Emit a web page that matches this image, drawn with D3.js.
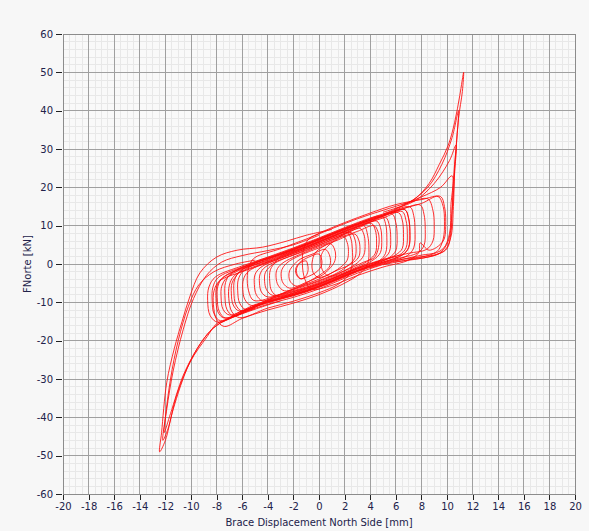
<!DOCTYPE html>
<html>
<head>
<meta charset="utf-8">
<script src="https://cdn.jsdelivr.net/npm/d3@7"></script>
<style>
  body { margin: 0; background: #f7f7f7; }
  text { font-family: "DejaVu Sans", "Liberation Sans", sans-serif; fill: #22224a; }
</style>
</head>
<body>
<div id="chart"></div>
<script>

// tick labels
const xTicks = [-20, -18, -16, -14, -12, -10, -8, -6, -4, -2, 0, 2, 4, 6, 8, 10, 12, 14, 16, 18, 20];
const yTicks = [-60, -50, -40, -30, -20, -10, 0, 10, 20, 30, 40, 50, 60];

// closed hysteresis loops [displacement mm, force kN]
const loops = [
    [[9.3,17.6],[8,15.8],[6,14],[4,12],[2,9.5],[0,6.8],[-2,4.2],[-4,1.8],[-6,-0.5],[-8.1,-3.4],[-8.6,-6],[-8.7,-9.5],[-8.5,-13.5],[-7.9,-15.2],[-6,-12.7],[-4,-10.5],[-2,-8.7],[0,-6.5],[2,-3.7],[4,-1.2],[6,0.8],[8,2.3],[9.2,3.2],[9.7,6.5],[9.8,11],[9.7,15]],
    [[7.9,15.4],[6,13.7],[4,11.7],[2,9.2],[0,6.5],[-2,3.9],[-4,1.5],[-6,-0.8],[-7.9,-3.6],[-8.3,-6.2],[-8.35,-9.4],[-8.2,-13],[-7.7,-14.8],[-6,-12.2],[-4,-10],[-2,-8.2],[0,-6],[2,-3.2],[4,-0.7],[6,1.3],[7.7,2.9],[8.2,4.8],[8.3,9],[8.2,13]],
    [[6.7,14.2],[5,12.5],[3,10.3],[1,7.7],[-1,5],[-3,2.5],[-5,0.2],[-7.6,-3.8],[-8,-6],[-8.05,-9],[-7.9,-12.5],[-7.4,-14.1],[-5,-10.9],[-3,-8.9],[-1,-7],[1,-4.5],[3,-1.7],[5,0.5],[6.5,2.4],[7,4.3],[7.1,8.5],[7,12]],
    [[6.2,13.4],[4,11.2],[2,8.7],[0,6],[-2,3.4],[-4,1],[-6,-1.3],[-7.2,-3.6],[-7.6,-5.8],[-7.65,-8.6],[-7.5,-11.8],[-7,-13.3],[-5,-10.6],[-3,-8.6],[-1,-6.7],[1,-4.2],[3,-1.4],[5,0.8],[6,2.4],[6.5,4],[6.6,8],[6.5,11.5]],
    [[7.1,14.9],[5,12.8],[3,10.6],[1,8],[-1,5.3],[-3,2.8],[-5,0.5],[-6.9,-2.6],[-7.3,-4.8],[-7.35,-8.2],[-7.2,-11.8],[-6.7,-13.5],[-5,-11.2],[-3,-9.2],[-1,-7.3],[1,-4.8],[3,-2],[5,0.2],[6.9,2.2],[7.4,4.2],[7.5,8.8],[7.4,12.6]],
    [[5.2,12.2],[4,11],[2,8.5],[0,5.8],[-2,3.2],[-4,0.8],[-6,-1.5],[-6.4,-2.8],[-6.8,-5],[-6.85,-7.6],[-6.7,-10.7],[-6.2,-12.3],[-4,-9.3],[-2,-7.5],[0,-5.3],[2,-2.5],[4,0],[5,1.3],[5.5,3.2],[5.6,7],[5.5,10]],
    [[5.7,13.1],[4,11.4],[2,8.9],[0,6.2],[-2,3.6],[-4,1.2],[-5.9,-1.8],[-6.3,-4],[-6.35,-7],[-6.2,-10.2],[-5.7,-11.9],[-4,-9.7],[-2,-7.9],[0,-5.7],[2,-2.9],[4,-0.4],[5.5,1.7],[6,3.5],[6.1,7.5],[6,10.8]],
    [[4.5,11.2],[3,9.6],[1,7],[-1,4.3],[-3,1.8],[-5.5,-1.9],[-5.9,-4],[-5.95,-6.7],[-5.8,-9.2],[-5.3,-10.8],[-3,-8.2],[-1,-6.3],[1,-3.8],[3,-1],[4.3,1.2],[4.8,3],[4.9,6.5],[4.8,9.5]],
    [[4.1,10.6],[3,9.3],[1,6.7],[-1,4],[-3,1.5],[-4.6,-1],[-5,-2.8],[-5.05,-5.4],[-4.9,-8],[-4.4,-9.6],[-3,-7.9],[-1,-6],[1,-3.5],[3,-0.7],[3.9,1],[4.4,2.8],[4.5,6],[4.4,8.8]],
    [[3.2,9.3],[2,7.7],[0,5],[-2,2.4],[-4.2,-0.8],[-4.6,-2.6],[-4.65,-5],[-4.5,-7.3],[-4,-8.6],[-2,-6.7],[0,-4.5],[2,-1.7],[3,0.3],[3.5,2.3],[3.6,5.3],[3.5,7.8]],
    [[2.5,8.2],[1,6.2],[-1,3.5],[-3,1],[-3.8,-0.6],[-4.2,-2.3],[-4.25,-4.5],[-4.1,-6.7],[-3.6,-8.2],[-2,-6.5],[0,-4.3],[1.5,-2.2],[2.3,-0.3],[2.8,1.5],[2.9,4],[2.8,6.5]],
    [[1.9,7.3],[1,5.9],[-1,3.2],[-2.9,0.1],[-3.3,-1.6],[-3.35,-3.6],[-3.2,-5.5],[-2.7,-7],[-1,-5.2],[0.5,-3.2],[1.7,-0.8],[2.2,1],[2.3,3.3],[2.2,5.6]],
    [[0.9,5.3],[0,4.2],[-1.5,2.2],[-2.5,0.3],[-2.9,-1.5],[-2.95,-3.3],[-2.8,-5],[-2.3,-6.3],[-1,-4.8],[0.3,-2.8],[0.8,-1.3],[1.2,0.5],[1.3,2.3],[1.2,4]],
    [[0.5,3.8],[-0.5,2.6],[-1.5,1.2],[-2,-0.3],[-2.3,-1.8],[-2.35,-3.3],[-2.2,-4.8],[-1.7,-5.8],[-0.5,-4],[0.3,-2.3],[0.8,-0.8],[0.9,0.9],[0.8,2.5]],
    [[0,2.6],[-0.8,1.8],[-1.5,0.4],[-1.8,-1],[-1.8,-2.5],[-1.5,-3.8],[-0.8,-3.2],[-0.1,-1.8],[0.2,-0.3],[0.2,1.3]],
    [[-1,0.8],[-1.5,0.2],[-1.75,-1.2],[-1.7,-2.8],[-1.4,-3.9],[-1,-3],[-0.85,-1.5],[-0.9,0]],
    [[4.9,12.5],[3,10.4],[1,7.8],[-1,5.1],[-3,2.6],[-5,0.3],[-7.5,-3.5],[-7.9,-5.8],[-7.95,-8.8],[-7.8,-12.3],[-7.3,-14.1],[-5,-11],[-3,-9],[-1,-7.1],[1,-4.6],[3,-1.8],[4.7,0.8],[5.2,2.8],[5.3,7],[5.2,10.5]],
    [[6.7,14.2],[5,12.5],[3,10.3],[1,7.7],[-1,5],[-3,2.5],[-5,0.2],[-6.2,-2],[-6.6,-4.2],[-6.65,-7.3],[-6.5,-10.6],[-6,-12.3],[-4,-9.8],[-2,-8],[0,-5.8],[2,-3],[4,-0.5],[6.5,2.3],[7,4.2],[7.1,8.4],[7,11.8]],
    [[2.8,7.8],[1.5,6.3],[0.3,4.5],[-0.3,2.9],[-0.5,1.2],[-0.55,-0.8],[-0.4,-2.6],[0,-3.5],[1.5,-1.5],[2.5,0],[3.1,1.8],[3.2,4],[3.1,6.3]],
    [[4.3,10],[3,8.5],[1.5,6.6],[0.6,4.4],[0.2,2.5],[0.15,0.2],[0.3,-1.8],[0.8,-3.2],[2,-1.8],[3.5,0.5],[4.3,1.6],[4.6,3.6],[4.7,6.5],[4.6,8.5]],
    [[6.5,13.7],[5,12],[3,9.8],[1,7.2],[-1,4.5],[-3,2],[-3.4,0.5],[-3.8,-1.5],[-3.85,-4.5],[-3.7,-7],[-3.2,-8.4],[-1,-6.5],[1,-4],[3,-1.2],[5,1],[6.3,2.4],[6.8,4.2],[6.9,8],[6.8,11.3]],
    [[3.5,10],[2,8],[0,5.3],[-2,2.7],[-4,0.3],[-6,-2],[-7.8,-4.5],[-8.2,-7],[-8.25,-10.5],[-8,-14.5],[-7.4,-16.3],[-6,-14.2],[-4,-12],[-2,-10.2],[0,-8],[2,-5],[3.2,-2.5],[3.8,0],[3.9,4],[3.8,7.5]],
    [[2.2,8.3],[1,7],[-1,4.3],[-3,1.7],[-5,-0.6],[-6.6,-3],[-7,-5.5],[-7.05,-9],[-6.8,-12.5],[-6.2,-14],[-4,-11.5],[-2,-9.7],[0,-7.5],[1.5,-5.3],[2.3,-3],[2.6,0],[2.6,4],[2.5,6.5]],
    [[8.5,17],[7,16],[5,14],[3,11.8],[1,9.2],[-1,6.5],[-3,4],[-5,1.7],[-5.4,0],[-5.6,-3],[-5.5,-7],[-5.1,-9.5],[-3,-8],[-1,-6.2],[1,-3.8],[3,-1],[5,1.2],[7,2.8],[8.4,3.8],[8.9,6],[9,10],[8.9,14]],
    [[9.5,17.6],[8,16.8],[6,15.5],[4,13.3],[2,10.8],[0,8],[-0.8,6.5],[-1.2,4],[-1.3,0],[-1.1,-4],[-0.6,-6.5],[1,-5.6],[3,-3],[5,-0.8],[7,1],[7.8,3],[7.9,5.5],[8.6,3.6],[9.7,6],[9.9,11],[9.8,15]]
];

// open excursions to the large positive / negative peaks
const excursions = [
    [[5,13.5],[6.5,15.2],[7.5,17],[8.6,21],[9.4,26],[10.1,31],[10.6,37],[11,44],[11.3,50],[11.2,45],[10.9,38],[10.7,30],[10.5,22],[10.4,14],[10.3,8],[10,4],[9.3,2.6],[8,1.9],[6,0.9],[4,-1]],
    [[5,13],[7,16],[8.5,20],[9.6,26],[10.4,33],[10.9,40],[10.8,34],[10.6,25],[10.5,15],[10.3,7],[9.8,3.5],[8.5,1.8],[7,1.1],[5,-0.2]],
    [[6,14.5],[7.5,16.5],[9,21],[10.2,27],[10.7,31],[10.6,24],[10.4,14],[10.1,6],[9.4,2.8],[8,1.5],[6,0.6]],
    [[6.5,15.5],[8,17.5],[9.5,20],[10.4,23],[10.3,15],[10.2,8],[9.7,4],[8.5,2.2],[7,1.2]],
    [[1,9],[-1,7.5],[-2.5,6],[-4.4,4.4],[-6.4,3.6],[-8,1.8],[-9.3,-2.3],[-10.1,-8.6],[-10.7,-15],[-11.3,-22],[-11.9,-31],[-12.3,-44],[-12.45,-49],[-12,-46],[-11.4,-38],[-10.1,-25.8],[-8.75,-19],[-8,-15.6],[-7,-14.2],[-5,-11.8],[-3,-9.6]],
    [[0,7.5],[-2,5],[-4,3.5],[-6,2.2],[-7.6,0.5],[-8.8,-3],[-9.8,-9],[-10.6,-17],[-11.4,-28],[-11.9,-38],[-12.2,-46],[-11.8,-43],[-11.1,-34],[-10,-25],[-9,-19.5],[-8,-16],[-6.5,-13.6],[-5,-11.6]],
    [[-5,1],[-6.5,0],[-8.2,-2],[-9.4,-5.5],[-10.2,-11],[-11,-20],[-11.6,-30],[-12,-40],[-12.1,-44],[-11.6,-39],[-10.6,-29],[-9.5,-22],[-8.5,-17.5],[-7.5,-15],[-6,-12.8]]
];

const width = 589;
const height = 531;
const margin = {left: 63, right: 14, top: 34, bottom: 37};

let svg = d3.select("#chart")
    .append("svg")
    .attr("width", width)
    .attr("height", height);

let xScale = d3.scaleLinear().domain([-20, 20]).range([margin.left, width - margin.right]);
let yScale = d3.scaleLinear().domain([-60, 60]).range([height - margin.bottom, margin.top]);

// plot background
svg.append("rect")
    .attr("x", xScale(-20)).attr("y", yScale(60))
    .attr("width", xScale(20) - xScale(-20))
    .attr("height", yScale(-60) - yScale(60))
    .attr("fill", "#f9f9f9");

// minor grid
let xMinor = d3.range(-20, 20.001, 0.5);
let yMinor = d3.range(-60, 60.001, 2);

svg.append("g").selectAll("line")
    .data(xMinor)
    .join("line")
    .attr("x1", d => xScale(d)).attr("x2", d => xScale(d))
    .attr("y1", yScale(60)).attr("y2", yScale(-60))
    .attr("stroke", "#e8e8e8").attr("shape-rendering", "crispEdges");

svg.append("g").selectAll("line")
    .data(yMinor)
    .join("line")
    .attr("y1", d => yScale(d)).attr("y2", d => yScale(d))
    .attr("x1", xScale(-20)).attr("x2", xScale(20))
    .attr("stroke", "#e8e8e8").attr("shape-rendering", "crispEdges");

// major grid
svg.append("g").selectAll("line")
    .data(xTicks)
    .join("line")
    .attr("x1", d => xScale(d)).attr("x2", d => xScale(d))
    .attr("y1", yScale(60)).attr("y2", yScale(-60))
    .attr("stroke", "#a0a0a0").attr("shape-rendering", "crispEdges");

svg.append("g").selectAll("line")
    .data(yTicks)
    .join("line")
    .attr("y1", d => yScale(d)).attr("y2", d => yScale(d))
    .attr("x1", xScale(-20)).attr("x2", xScale(20))
    .attr("stroke", "#a0a0a0").attr("shape-rendering", "crispEdges");

// data
let lineLoop = d3.line()
    .x(d => xScale(d[0]))
    .y(d => yScale(d[1]))
    .curve(d3.curveCatmullRomClosed.alpha(0.5));

let lineOpen = d3.line()
    .x(d => xScale(d[0]))
    .y(d => yScale(d[1]))
    .curve(d3.curveCatmullRom.alpha(0.5));

let plot = svg.append("g");

plot.selectAll("path.loop")
    .data(loops)
    .join("path")
    .classed("loop", true)
    .attr("d", lineLoop)
    .attr("fill", "none")
    .attr("stroke", "#ff0a0a")
    .attr("stroke-opacity", 0.85)
    .attr("stroke-width", 1);

plot.selectAll("path.exc")
    .data(excursions)
    .join("path")
    .classed("exc", true)
    .attr("d", lineOpen)
    .attr("fill", "none")
    .attr("stroke", "#ff0a0a")
    .attr("stroke-opacity", 0.85)
    .attr("stroke-width", 1);

// axes
let xAxis = d3.axisBottom(xScale).tickValues(xTicks).tickSize(5).tickPadding(3).tickFormat(d => d);
let xAxisMinor = d3.axisBottom(xScale).tickValues(xMinor).tickSize(3).tickFormat("");
let yAxis = d3.axisLeft(yScale).tickValues(yTicks).tickSize(6).tickPadding(3).tickFormat(d => d);
let yAxisMinor = d3.axisLeft(yScale).tickValues(yMinor).tickSize(3).tickFormat("");

let gx = svg.append("g").attr("transform", `translate(0, ${yScale(-60) + 1})`);
gx.call(xAxisMinor);
gx.call(xAxis);

let gy = svg.append("g").attr("transform", `translate(${xScale(-20) - 1}, 0)`);
gy.call(yAxisMinor);
gy.call(yAxis);

svg.selectAll(".domain").remove();
svg.selectAll(".tick line").attr("stroke", "#222").attr("shape-rendering", "crispEdges");
svg.selectAll(".tick text")
    .style("font-size", "10px")
    .attr("fill", "#22224a");

// frame
svg.append("rect")
    .attr("x", xScale(-20)).attr("y", yScale(60))
    .attr("width", xScale(20) - xScale(-20))
    .attr("height", yScale(-60) - yScale(60))
    .attr("fill", "none")
    .attr("stroke", "#8c8c8c")
    .attr("shape-rendering", "crispEdges");

// titles
svg.append("text")
    .attr("x", (xScale(-20) + xScale(20)) / 2)
    .attr("y", height - 5)
    .attr("text-anchor", "middle")
    .style("font-size", "10px")
    .text("Brace Displacement North Side [mm]");

svg.append("text")
    .attr("transform", `translate(31, ${(yScale(60) + yScale(-60)) / 2}) rotate(-90)`)
    .attr("text-anchor", "middle")
    .style("font-size", "10px")
    .text("FNorte [kN]");

</script>
</body>
</html>
